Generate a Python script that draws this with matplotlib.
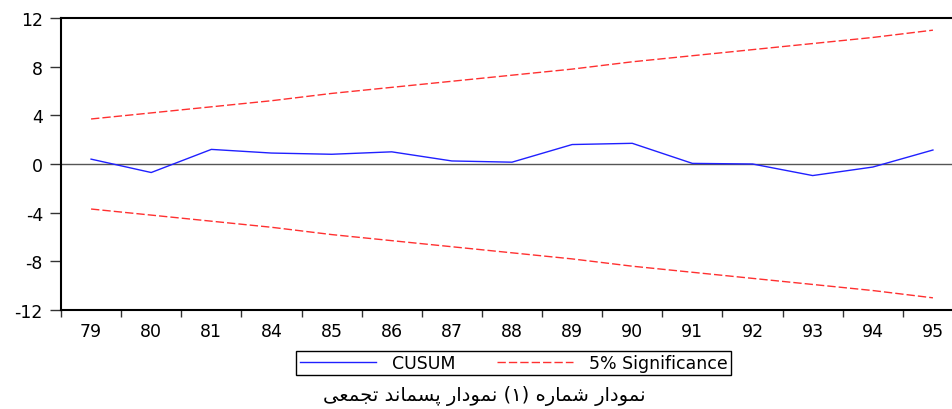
"""CUSUM chart with 5% significance bands."""
import matplotlib
matplotlib.use("Agg")
import matplotlib.pyplot as plt
import numpy as np

years = ["79", "80", "81", "84", "85", "86", "87", "88", "89", "90", "91", "92", "93", "94", "95"]
cusum = [0.4, -0.7, 1.2, 0.9, 0.8, 1.0, 0.25, 0.15, 1.6, 1.7, 0.05, 0.0, -0.95, -0.25, 1.15]
upper = [3.7, 4.2, 4.7, 5.2, 5.8, 6.3, 6.8, 7.3, 7.8, 8.4, 8.9, 9.4, 9.9, 10.4, 11.0]
lower = [-3.7, -4.2, -4.7, -5.2, -5.8, -6.3, -6.8, -7.3, -7.8, -8.4, -8.9, -9.4, -9.9, -10.4, -11.0]
yticks = [-12, -8, -4, 0, 4, 8, 12]

# caption, shaped by hand (presentation forms) since matplotlib has no Arabic shaping
caption_logical = ("\uFEE7\uFEE4\uFEEE\uFEA9\uFE8D\uFEAD \uFEB7\uFEE4\uFE8E\uFEAD\uFEE9 (\u06F1) "
                   "\uFEE7\uFEE4\uFEEE\uFEA9\uFE8D\uFEAD \uFB58\uFEB4\uFEE4\uFE8E\uFEE7\uFEAA "
                   "\uFE97\uFEA0\uFEE4\uFECC\uFEF0")
caption = caption_logical[::-1].translate(str.maketrans("()", ")("))

plt.rcParams["font.family"] = ["DejaVu Sans"]

fig = plt.figure(figsize=(9.53, 4.10), dpi=100)
ax = fig.add_axes([61 / 953, 1 - 311 / 410, 902 / 953, 292 / 410])

x = np.arange(len(years))
ax.axhline(0, color="#555555", lw=1.0, zorder=1)
ax.plot(x, cusum, color="#2020ff", lw=1.0, label="CUSUM", zorder=3)
ax.plot(x, upper, color="#ff3030", lw=1.0, dashes=(6, 2.2), label="5% Significance", zorder=2)
ax.plot(x, lower, color="#ff3030", lw=1.0, dashes=(6, 2.2), zorder=2)

ax.set_xlim(-0.5, len(years) - 0.5)
ax.set_ylim(-12, 12)
ax.set_yticks(yticks)
ax.set_yticklabels([str(v) for v in yticks])
ax.set_xticks(x)
ax.set_xticklabels(years)
ax.set_xticks(np.arange(len(years) + 1) - 0.5, minor=True)
ax.tick_params(axis="x", which="major", length=0, pad=9, labelsize=12.5)
ax.tick_params(axis="x", which="minor", length=5, width=1.0, color="#333333", direction="out")
ax.tick_params(axis="y", which="major", length=8, width=1.0, color="#333333", pad=5, labelsize=12.5)
for side in ["left", "bottom", "top"]:
    ax.spines[side].set_linewidth(1.5)
    ax.spines[side].set_color("black")
ax.spines["right"].set_visible(False)

fig.legend(loc="center", bbox_to_anchor=(513.5 / 953, 1 - 364 / 410), ncol=2,
           frameon=True, fancybox=False, edgecolor="black", framealpha=1,
           fontsize=12.5, handlelength=4.4, handletextpad=0.9, columnspacing=2.4,
           borderpad=0.2).get_frame().set_linewidth(1.0)

fig.text(484 / 953, 1 - 396 / 410, caption, ha="center", va="center", fontsize=14)

fig.savefig("out.png", dpi=100)
